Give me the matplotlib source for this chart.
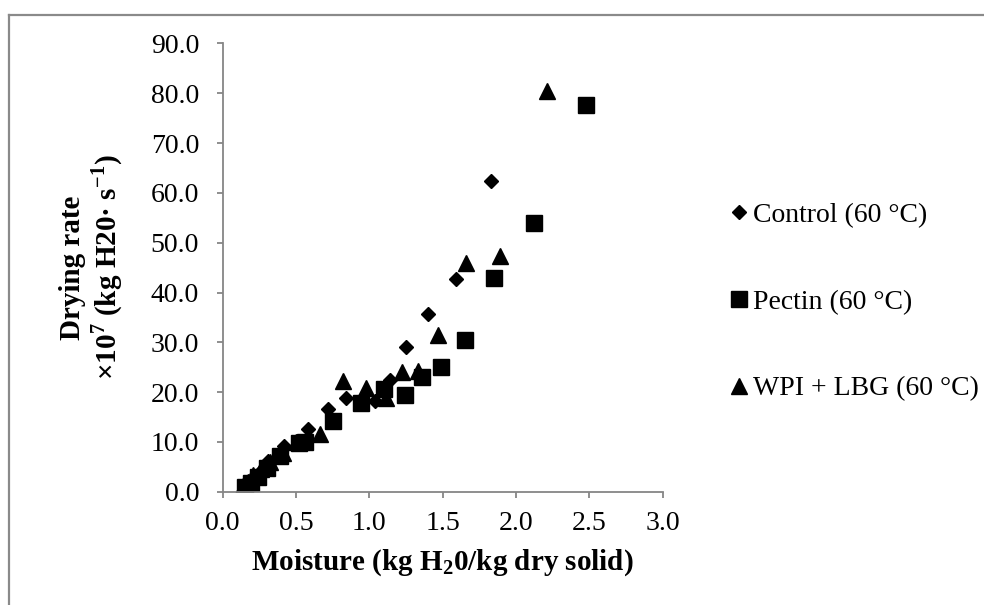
import matplotlib
matplotlib.use("Agg")
import matplotlib.pyplot as plt
from matplotlib.lines import Line2D

plt.rcParams['font.family'] = ['Liberation Serif', 'DejaVu Serif']
plt.rcParams['mathtext.fontset'] = 'custom'
plt.rcParams['mathtext.rm'] = 'Liberation Serif'
plt.rcParams['mathtext.bf'] = 'Liberation Serif:bold'

control_x = [0.15, 0.18, 0.22, 0.27, 0.31, 0.42, 0.58, 0.72, 0.84, 1.04, 1.14, 1.25, 1.40, 1.59, 1.83]
control_y = [1.0, 1.6, 2.8, 4.4, 6.2, 9.2, 12.6, 16.7, 18.9, 18.2, 22.5, 29.1, 35.7, 42.7, 62.4]

pectin_x = [0.15, 0.19, 0.24, 0.30, 0.39, 0.52, 0.56, 0.75, 0.94, 1.10, 1.24, 1.36, 1.49, 1.65, 1.85, 2.12, 2.48]
pectin_y = [1.0, 1.8, 2.9, 4.8, 7.2, 9.8, 10.0, 14.1, 17.8, 20.6, 19.4, 23.1, 25.0, 30.5, 42.9, 54.0, 77.6]

wpi_x = [0.14, 0.17, 0.21, 0.26, 0.32, 0.41, 0.50, 0.66, 0.82, 0.98, 1.11, 1.22, 1.33, 1.47, 1.66, 1.89, 2.21]
wpi_y = [1.2, 2.0, 3.3, 4.6, 5.9, 7.8, 10.0, 11.5, 22.2, 20.9, 18.8, 24.0, 24.3, 31.4, 45.9, 47.3, 80.5]

labels = ['Control (60 °C)', 'Pectin (60 °C)', 'WPI + LBG (60 °C)']
x_ticks = [0.0, 0.5, 1.0, 1.5, 2.0, 2.5, 3.0]
y_ticks = [0, 10, 20, 30, 40, 50, 60, 70, 80, 90]

fig = plt.figure(figsize=(9.84, 6.05), dpi=100)
W, H = 984, 605
ax = fig.add_axes([222.7 / W, 1 - 491.7 / H, 440 / W, 448.2 / H])

h1, = ax.plot(control_x, control_y, linestyle='none', marker='D', ms=7.6, color='black', label=labels[0])
h2, = ax.plot(pectin_x, pectin_y, linestyle='none', marker='s', ms=11, color='black', label=labels[1])
h3, = ax.plot(wpi_x, wpi_y, linestyle='none', marker='^', ms=11.5, color='black', label=labels[2])

ax.set_xlim(0, 3.0)
ax.set_ylim(0, 90)
ax.set_xticks(x_ticks)
ax.set_xticklabels([f'{v:.1f}' for v in x_ticks])
ax.set_yticks(y_ticks)
ax.set_yticklabels([f'{v:.1f}' for v in y_ticks])

gray = '#868686'
for s in ['top', 'right']:
    ax.spines[s].set_visible(False)
for s in ['left', 'bottom']:
    ax.spines[s].set_color(gray)
    ax.spines[s].set_linewidth(1.3)
ax.tick_params(direction='out', length=4.3, width=1.3, color=gray, labelsize=20, labelcolor='black')
ax.tick_params(axis='y', pad=12.7)
ax.tick_params(axis='x', pad=9.5)

ax.set_xlabel('Moisture (kg H$_\\mathbf{2}$0/kg dry solid)', fontsize=21, fontweight='bold')
ax.xaxis.label.set_va('center')
ax.xaxis.set_label_coords(0.5, (491.7 - 563) / 448.2)

ax.set_ylabel('Drying rate\n×10$^\\mathbf{7}$ (kg H20· s$^\\mathbf{-1}$)', fontsize=21, fontweight='bold',
              linespacing=1.1)
ax.yaxis.label.set_va('center')
ax.yaxis.set_label_coords((92 - 222.7) / 440, 0.5)

leg = fig.legend(handles=[h1, h2, h3], loc='center left', bbox_to_anchor=(731 / W, 1 - 302 / H),
                 frameon=False, fontsize=20, labelspacing=2.21, handlelength=0.6, handletextpad=0.18,
                 borderaxespad=0, borderpad=0)

# outer chart border (top and left visible)
fig.add_artist(Line2D([8.5 / W, 1.0], [1 - 14.5 / H, 1 - 14.5 / H], transform=fig.transFigure, color='#8a8a8a', lw=1.6))
fig.add_artist(Line2D([8.5 / W, 8.5 / W], [0.0, 1 - 14.5 / H], transform=fig.transFigure, color='#8a8a8a', lw=1.6))

fig.savefig('out.png', dpi=100)
